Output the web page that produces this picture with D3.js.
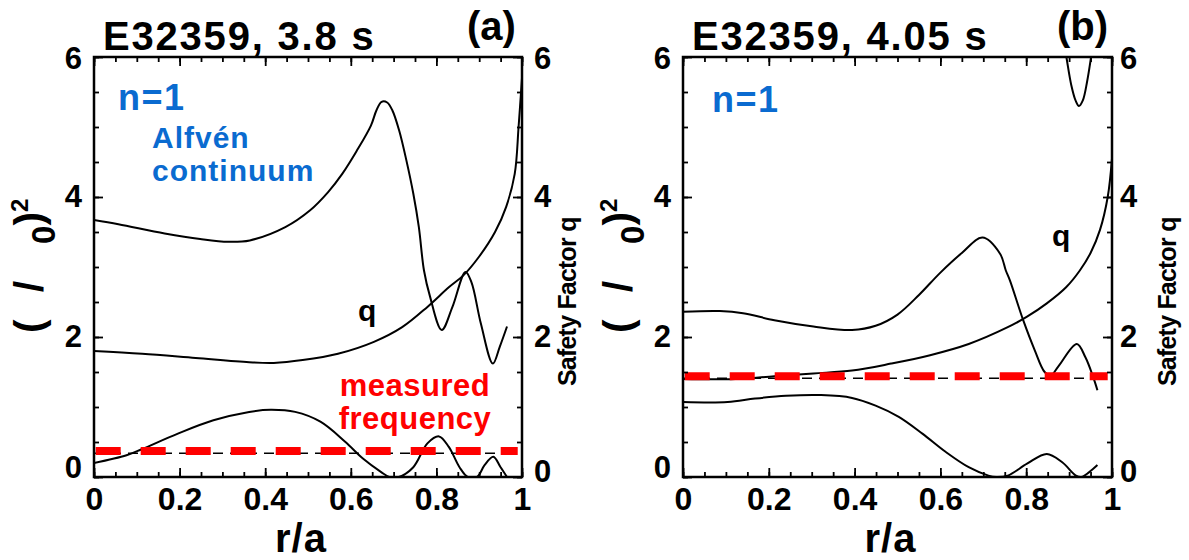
<!DOCTYPE html>
<html lang="en">
<head>
<meta charset="UTF-8">
<title>Alfvén continuum E32359</title>
<script src="https://d3js.org/d3.v7.min.js"></script>
<style>
  body { margin: 0; background: #fff; }
  svg text { font-family: "Liberation Sans", Arial, sans-serif; font-weight: bold; }
  .curve { fill: none; stroke: #000; stroke-width: 2; }
  .box { fill: none; stroke: #000; stroke-width: 2.5; }
  .tick line { stroke-width: 1.8; }
  .blue { fill: #0a6bd0; }
  .red { fill: #ff0000; }
</style>
</head>
<body>
<svg width="1189" height="560"></svg>
<script>
const xTicks = [0, 0.2, 0.4, 0.6, 0.8, 1];
const yTicks = [0, 2, 4, 6];

// (a) E32359, 3.8 s  -- [r/a, value]
const aUpper = [[0,3.67],[0.057,3.61],[0.165,3.48],[0.248,3.40],[0.314,3.36],[0.364,3.38],[0.447,3.57],
  [0.505,3.81],[0.547,4.07],[0.58,4.33],[0.613,4.65],[0.647,5.02],[0.66,5.24],[0.672,5.36],[0.685,5.35],
  [0.697,5.24],[0.713,4.95],[0.73,4.52],[0.746,4.05],[0.759,3.57],[0.771,2.95],[0.785,2.58],[0.8125,2.10],
  [0.8375,2.43],[0.868,2.93],[0.882,2.78],[0.904,2.19],[0.932,1.62],[0.948,1.86],[0.965,2.15]];
const aQ = [[0,1.80],[0.1125,1.76],[0.2375,1.70],[0.3625,1.64],[0.42,1.63],[0.4875,1.67],[0.57,1.76],
  [0.654,1.93],[0.72,2.14],[0.779,2.43],[0.829,2.71],[0.863,2.88],[0.9,3.15],[0.937,3.5],[0.963,3.86],
  [0.983,4.33],[0.992,5.0],[1.0,5.7]];
const aLower = [[0,0.2],[0.076,0.31],[0.1125,0.40],[0.196,0.62],[0.279,0.81],[0.3625,0.93],[0.4125,0.96],
  [0.47,0.93],[0.529,0.79],[0.5875,0.50],[0.629,0.26],[0.671,0.07],[0.69,0],[0.712,0],[0.746,0.14],
  [0.779,0.48],[0.806,0.58],[0.829,0.43],[0.854,0.14],[0.873,0],[0.895,0],[0.9125,0.17],[0.933,0.29],
  [0.95,0.14],[0.965,0]];
const aFreq = 0.37;      // measured frequency
const aFreqLine = 0.34;  // thin dashed line

// (b) E32359, 4.05 s
const bUpper = [[0,2.36],[0.086,2.37],[0.14,2.34],[0.213,2.24],[0.304,2.15],[0.394,2.10],[0.449,2.16],
  [0.5,2.32],[0.55,2.6],[0.6,2.92],[0.65,3.2],[0.698,3.42],[0.739,3.19],[0.7525,2.95],
  [0.762,2.81],[0.793,2.24],[0.82,1.81],[0.843,1.50],[0.857,1.45],[0.875,1.58],[0.918,1.90],[0.938,1.71],
  [0.956,1.43],[0.966,1.24]];
const bTop = [[0.886,6.3],[0.895,5.95],[0.905,5.6],[0.915,5.38],[0.923,5.30],[0.932,5.38],[0.942,5.65],
  [0.95,5.95],[0.958,6.3]];
const bQ = [[0,1.40],[0.122,1.40],[0.213,1.44],[0.304,1.48],[0.394,1.52],[0.485,1.62],[0.576,1.74],
  [0.666,1.90],[0.757,2.14],[0.802,2.29],[0.848,2.48],[0.893,2.71],[0.925,2.95],[0.95,3.2],[0.972,3.53],
  [0.99,4.0],[1.0,4.55]];
const bLower = [[0,1.07],[0.104,1.07],[0.168,1.12],[0.24,1.16],[0.322,1.17],[0.394,1.13],[0.449,1.02],
  [0.503,0.86],[0.558,0.62],[0.612,0.36],[0.666,0.14],[0.712,0.02],[0.73,0],[0.757,0.02],[0.802,0.19],
  [0.848,0.33],[0.884,0.21],[0.916,0.02],[0.929,0],[0.947,0.07],[0.966,0.17]];
const bFreq = 1.44;
const bFreqLine = 1.41;

const plotTop = 57, plotBottom = 477;
const svg = d3.select("svg");

const panels = [
  { left: 94, right: 522, title: "E32359, 3.8 s", tag: "(a)", curves: [aUpper, aQ, aLower],
    freq: aFreq, freqLine: aFreqLine, rPad: 12, rLabelX: 54, qPos: [358, 321], nPos: [118, 110] },
  { left: 683, right: 1112, title: "E32359, 4.05 s", tag: "(b)", curves: [bUpper, bTop, bQ, bLower],
    freq: bFreq, freqLine: bFreqLine, rPad: 8, rLabelX: 64, qPos: [1052, 246], nPos: [712, 112] }
];

panels.forEach((p, i) => {
  const x = d3.scaleLinear().domain([0, 1]).range([p.left, p.right]);
  const y = d3.scaleLinear().domain([0, 6]).range([plotBottom, plotTop]);
  const g = svg.append("g");

  svg.append("clipPath").attr("id", "clip" + i)
    .append("rect")
    .attr("x", p.left).attr("y", plotTop)
    .attr("width", p.right - p.left).attr("height", plotBottom - plotTop);

  const line = d3.line()
    .x(d => x(d[0]))
    .y(d => y(d[1]))
    .curve(d3.curveCatmullRom.alpha(0.5));

  const cg = g.append("g").attr("clip-path", `url(#clip${i})`);
  p.curves.forEach(c => {
    cg.append("path").attr("class", "curve").attr("d", line(c));
  });

  // thin black dashed line
  cg.append("line")
    .attr("x1", x(0)).attr("x2", x(0.99))
    .attr("y1", y(p.freqLine)).attr("y2", y(p.freqLine))
    .attr("stroke", "#000").attr("stroke-width", 1.6)
    .attr("stroke-dasharray", "10,7");
  // red measured frequency
  cg.append("line")
    .attr("x1", x(0.004)).attr("x2", x(0.99))
    .attr("y1", y(p.freq)).attr("y2", y(p.freq))
    .attr("stroke", "#ff0000").attr("stroke-width", 8)
    .attr("stroke-dasharray", "25,20");

  // axes
  const minorX = d3.range(0, 1.0001, 0.05);
  const minorY = d3.range(0, 6.0001, 0.5);
  const noDomain = s => s.select(".domain").remove();
  const fmt = d3.format("~g");

  g.append("g").attr("transform", `translate(0,${plotBottom})`)
    .call(d3.axisBottom(x).tickValues(minorX).tickSize(-5).tickFormat("")).call(noDomain);
  const xb = g.append("g").attr("transform", `translate(0,${plotBottom})`)
    .call(d3.axisBottom(x).tickValues(xTicks).tickSize(-9).tickPadding(10).tickFormat(fmt))
    .call(noDomain);
  xb.selectAll("text").style("font-size", "32px").attr("fill", "#000");

  g.append("g").attr("transform", `translate(0,${plotTop})`)
    .call(d3.axisTop(x).tickValues(minorX).tickSize(-5).tickFormat("")).call(noDomain);
  g.append("g").attr("transform", `translate(0,${plotTop})`)
    .call(d3.axisTop(x).tickValues(xTicks).tickSize(-9).tickFormat("")).call(noDomain);

  g.append("g").attr("transform", `translate(${p.left},0)`)
    .call(d3.axisLeft(y).tickValues(minorY).tickSize(-5).tickFormat("")).call(noDomain);
  const yl = g.append("g").attr("transform", `translate(${p.left},0)`)
    .call(d3.axisLeft(y).tickValues(yTicks).tickSize(-9).tickPadding(12).tickFormat(fmt)).call(noDomain);
  yl.selectAll("text").style("font-size", "31px").attr("fill", "#000")
    .attr("y", d => d === 0 ? -9 : (d === 6 ? 2 : 0));

  g.append("g").attr("transform", `translate(${p.right},0)`)
    .call(d3.axisRight(y).tickValues(minorY).tickSize(-5).tickFormat("")).call(noDomain);
  const yr = g.append("g").attr("transform", `translate(${p.right},0)`)
    .call(d3.axisRight(y).tickValues(yTicks).tickSize(-9).tickPadding(p.rPad).tickFormat(fmt)).call(noDomain);
  yr.selectAll("text").style("font-size", "31px").attr("fill", "#000")
    .attr("y", d => d === 0 ? -5 : (d === 6 ? 2 : 0));

  g.append("rect").attr("class", "box")
    .attr("x", p.left).attr("y", plotTop)
    .attr("width", p.right - p.left).attr("height", plotBottom - plotTop);

  // titles
  g.append("text").attr("x", p.left + 9).attr("y", 50)
    .style("font-size", "40px").style("letter-spacing", "1.8px").text(p.title);
  g.append("text").attr("x", p.right - 55).attr("y", 40)
    .style("font-size", "40px").text(p.tag);

  // axis titles
  g.append("text").attr("x", (p.left + p.right) / 2 - 7).attr("y", 552)
    .attr("text-anchor", "middle").style("font-size", "40px").style("letter-spacing", "1px").text("r/a");

  const yt = g.append("text")
    .attr("transform", `translate(${p.left - 51},333) rotate(-90)`)
    .style("font-size", "41px");
  yt.append("tspan").text("(");
  yt.append("tspan").attr("dx", 27).text("/");
  yt.append("tspan").attr("dx", 37).attr("dy", 12).style("font-size", "33px").text("0");
  yt.append("tspan").attr("dy", -12).text(")");
  yt.append("tspan").attr("dy", -15).style("font-size", "24px").text("2");

  g.append("text")
    .attr("transform", `translate(${p.right + p.rLabelX},386) rotate(-90)`)
    .style("font-size", "25px").style("letter-spacing", "-0.8px").text("Safety Factor q");

  // annotations
  g.append("text").attr("class", "blue").attr("x", p.nPos[0]).attr("y", p.nPos[1])
    .style("font-size", "36px").style("letter-spacing", "1.5px").text("n=1");
  g.append("text").attr("x", p.qPos[0]).attr("y", p.qPos[1])
    .style("font-size", "30px").text("q");
});

svg.append("text").attr("class", "blue").attr("x", 152).attr("y", 148)
  .style("font-size", "30px").style("letter-spacing", "1px").text("Alfvén");
svg.append("text").attr("class", "blue").attr("x", 152).attr("y", 181)
  .style("font-size", "30px").style("letter-spacing", "1px").text("continuum");
svg.append("text").attr("class", "red").attr("x", 415).attr("y", 396)
  .attr("text-anchor", "middle").style("font-size", "31px").style("letter-spacing", "0.5px").text("measured");
svg.append("text").attr("class", "red").attr("x", 415).attr("y", 429)
  .attr("text-anchor", "middle").style("font-size", "31px").style("letter-spacing", "0.5px").text("frequency");
</script>
</body>
</html>
